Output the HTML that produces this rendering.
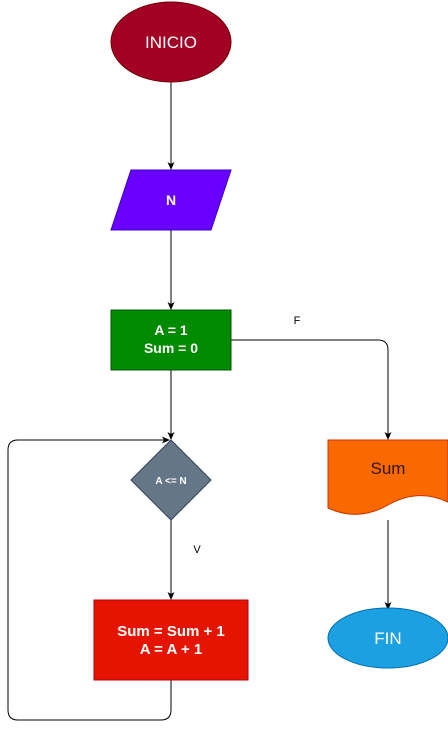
<!DOCTYPE html>
<html><head><meta charset="utf-8"><style>
html,body{margin:0;padding:0;background:#fff;width:448px;height:729px;overflow:hidden}
text{font-family:"Liberation Sans",Arial,sans-serif}
</style></head><body>
<svg width="448" height="729" viewBox="0 0 448 729" xmlns="http://www.w3.org/2000/svg">
<defs><marker id="ah" markerWidth="8" markerHeight="8" refX="7" refY="4" orient="auto" markerUnits="userSpaceOnUse"><path d="M0,0.5 L8,4 L0,7.5 L2,4 z" fill="#000"/></marker></defs>
<g fill="none" stroke="#000" stroke-width="1">
<line x1="171" y1="82" x2="171" y2="169" marker-end="url(#ah)"/>
<line x1="171" y1="230" x2="171" y2="309" marker-end="url(#ah)"/>
<line x1="171" y1="370" x2="171" y2="439" marker-end="url(#ah)"/>
<line x1="171" y1="520" x2="171" y2="599" marker-end="url(#ah)"/>
<path d="M231,340 H378 Q388,340 388,350 V439" marker-end="url(#ah)"/>
<path d="M171,680 V710 Q171,720 161,720 H18 Q8,720 8,710 V450 Q8,440 18,440 H169" marker-end="url(#ah)"/>
<line x1="388" y1="520" x2="388" y2="609" marker-end="url(#ah)"/>
</g>
<g>
<ellipse cx="171" cy="42" rx="60" ry="40" fill="#a20025" stroke="#6f0000"/>
<text x="171" y="48" fill="#fff" font-size="17" text-anchor="middle">INICIO</text></g>
<g>
<polygon points="131,170 231,170 211,230 111,230" fill="#6a00ff" stroke="#3700cc"/>
<text x="171" y="205" fill="#fff" font-size="14" font-weight="bold" text-anchor="middle">N</text></g>
<g>
<rect x="111" y="310" width="120" height="60" fill="#008a00" stroke="#005700"/>
<text x="171" y="335" fill="#fff" font-size="14" font-weight="bold" text-anchor="middle">A = 1</text>
<text x="171" y="353" fill="#fff" font-size="14" font-weight="bold" text-anchor="middle">Sum = 0</text></g>
<text x="297" y="324" font-size="11" text-anchor="middle">F</text>
<g>
<polygon points="171,440 211,480 171,520 131,480" fill="#647687" stroke="#314354"/>
<text x="171" y="484" fill="#fff" font-size="10" font-weight="bold" text-anchor="middle">A &lt;= N</text></g>
<text x="197" y="553" font-size="11" text-anchor="middle">V</text>
<g>
<rect x="94" y="600" width="154" height="80" fill="#e51400" stroke="#b20000"/>
<text x="171" y="636" fill="#fff" font-size="15" font-weight="bold" text-anchor="middle">Sum = Sum + 1</text>
<text x="171" y="654" fill="#fff" font-size="15" font-weight="bold" text-anchor="middle">A = A + 1</text></g>
<g>
<path d="M328,440 H448 V502 Q418,488 388,505 Q358,522 328,508 Z" fill="#fa6800" stroke="#c73500"/>
<text x="388" y="474" fill="#000" font-size="17" text-anchor="middle" opacity="0.8">Sum</text></g>
<g>
<ellipse cx="388" cy="638" rx="60" ry="30" fill="#1ba1e2" stroke="#006eaf"/>
<text x="388" y="644" fill="#fff" font-size="17" text-anchor="middle">FIN</text></g>
</svg>
</body></html>
